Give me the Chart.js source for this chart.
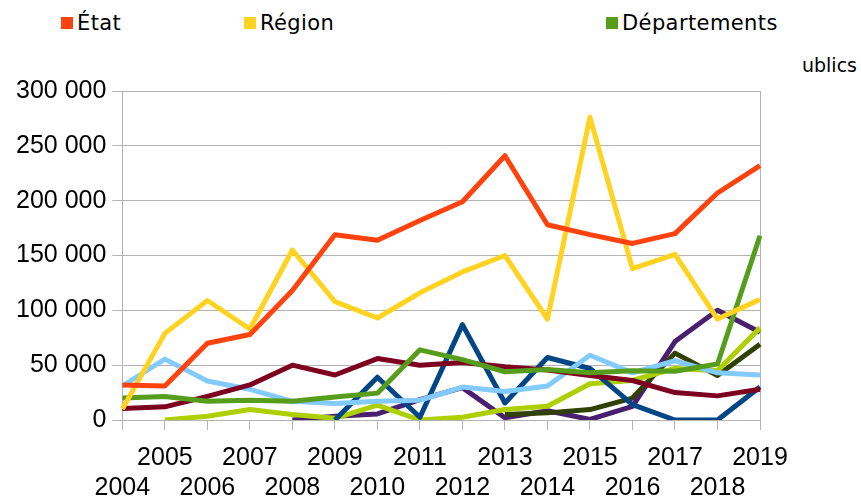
<!DOCTYPE html>
<html>
<head>
<meta charset="utf-8">
<script src="https://cdn.jsdelivr.net/npm/chart.js@4/dist/chart.umd.min.js"></script>
<style>
  html, body { margin: 0; padding: 0; background: #fff; overflow: hidden; }
  #wrap { position: relative; width: 861px; height: 516px; }
  #chart { position: absolute; left: 0; top: 0; z-index: 2; }
  .leg { position: absolute; font-family: "DejaVu Sans", sans-serif; font-size: 21px; letter-spacing: 0.4px; color: #000; white-space: nowrap; z-index: 1; }
  .leg.row2 { font-size: 19px; letter-spacing: 0; }
  .leg i { display: inline-block; width: 12px; height: 12px; margin-right: 4px; vertical-align: 1px; }
</style>
</head>
<body>
<div id="wrap">
  <div id="legend"></div>
  <canvas id="chart" width="861" height="516"></canvas>
</div>
<script>
// years on the x axis
const years = ['2004', '2005', '2006', '2007', '2008', '2009', '2010', '2011',
               '2012', '2013', '2014', '2015', '2016', '2017', '2018', '2019'];

// y axis ticks
const yTicks = [0, 50000, 100000, 150000, 200000, 250000, 300000];

// series
const etat = [32000, 31000, 70000, 78000, 118000, 169000, 164000, 182000, 199000, 241000, 178000, 169000, 161000, 170000, 207000, 232000];
const region = [10000, 79000, 109000, 83000, 155000, 108000, 93000, 116000, 135000, 150000, 92000, 276000, 138000, 151000, 92000, 110000];
const departements = [20000, 21500, 17000, 18000, 17000, 21000, 24500, 64000, 55000, 44000, 46000, 43000, 45000, 44500, 51000, 168000];
const communes = [10500, 12000, 21500, 32000, 50000, 41000, 56000, 50000, 52500, 48500, 45500, 40500, 36000, 25000, 22000, 28000];
const intercommunalites = [31000, 55500, 35500, 28000, 17000, 15000, 17000, 18000, 30000, 26000, 31000, 59000, 43000, 54000, 43000, 41000];
const etablissements = [null, null, null, null, null, 0, 39000, 2500, 87000, 15500, 57000, 47000, 14000, 0, 0, 30000];
const europe = [null, 0, 3500, 9500, 5000, 1500, 13500, 0, 2500, 9500, 12500, 33000, 36000, 47000, 45000, 84000];
const prives = [null, null, null, null, null, null, null, null, null, 5000, 6500, 9500, 20000, 61000, 40500, 69000];
const autres = [null, null, null, null, 0, 3500, 5500, 18500, 29500, 2000, 8500, 500, 12500, 71500, 100000, 80000];

const series = [
  { name: 'État', data: etat, color: '#ff420e' },
  { name: 'Région', data: region, color: '#ffd320' },
  { name: 'Départements', data: departements, color: '#579d1c' },
  { name: 'Communes', data: communes, color: '#7e0021' },
  { name: 'Intercommunalités', data: intercommunalites, color: '#83caff' },
  { name: 'Établissements publics', data: etablissements, color: '#004586' },
  { name: 'Europe', data: europe, color: '#aecf00' },
  { name: 'Privés', data: prives, color: '#314004' },
  { name: 'Autres', data: autres, color: '#4b1f6f' }
];

// legend, drawn in html (the second row is mostly hidden behind the plot)
const legendEl = document.getElementById('legend');
const addItem = (s, css, cls) => {
  const d = document.createElement('div');
  d.className = 'leg' + (cls ? ' ' + cls : '');
  Object.assign(d.style, css);
  d.innerHTML = '<i style="background:' + s.color + '"></i>' + s.name;
  legendEl.appendChild(d);
};
addItem(series[0], { left: '61px', top: '11px' });
addItem(series[1], { left: '244px', top: '11px' });
addItem(series[2], { left: '606px', top: '11px' });
addItem(series[3], { left: '61px', top: '54px' }, 'row2');
addItem(series[4], { left: '244px', top: '54px' }, 'row2');
addItem(series[5], { right: '4px', top: '54px' }, 'row2');

// white box behind the plot, it hides the second legend row
const coverPlugin = {
  id: 'cover',
  beforeDraw(chart) {
    const c = chart.ctx;
    c.save();
    c.fillStyle = '#fff';
    c.fillRect(0, 50, 803, chart.height - 50);
    c.restore();
  }
};

const fmt = v => String(v).replace(/\B(?=(\d{3})+(?!\d))/g, ' ');

const ctx = document.getElementById('chart').getContext('2d');
new Chart(ctx, {
  type: 'line',
  data: {
    labels: years,
    datasets: series.map(s => ({
      label: s.name,
      data: s.data,
      borderColor: s.color,
      backgroundColor: s.color,
      borderWidth: 5,
      borderJoinStyle: 'round',
      pointRadius: 0,
      tension: 0,
      fill: false,
      spanGaps: false
    }))
  },
  options: {
    responsive: false,
    animation: false,
    layout: { padding: { top: 91, right: 101, bottom: 0, left: 10 } },
    plugins: {
      legend: { display: false },
      tooltip: { enabled: false }
    },
    scales: {
      x: {
        grid: {
          color: c => (c.index === 0 || c.index === years.length - 1) ? '#b3b3b3' : 'rgba(0,0,0,0)',
          tickColor: '#b3b3b3',
          tickLength: 10,
          lineWidth: 1
        },
        border: { color: '#b3b3b3' },
        ticks: {
          autoSkip: false,
          maxRotation: 0,
          minRotation: 0,
          padding: 13,
          color: '#000',
          font: { family: '"Liberation Sans", Arial, sans-serif', size: 25, lineHeight: 1.2 },
          callback: (v, i) => i % 2 === 1 ? years[i] : ['', years[i]]
        }
      },
      y: {
        min: 0,
        max: yTicks[yTicks.length - 1],
        afterBuildTicks: axis => { axis.ticks = yTicks.map(v => ({ value: v })); },
        grid: { color: '#b3b3b3', tickColor: '#b3b3b3', tickLength: 10, lineWidth: 1 },
        border: { color: '#b3b3b3' },
        ticks: {
          padding: 6,
          color: '#000',
          font: { family: '"Liberation Sans", Arial, sans-serif', size: 25 },
          callback: v => fmt(v)
        }
      }
    }
  },
  plugins: [coverPlugin]
});
</script>
</body>
</html>
